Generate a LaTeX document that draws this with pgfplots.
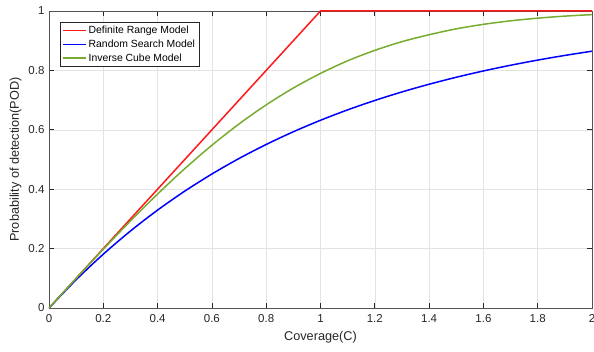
\documentclass[border=0pt]{standalone}
\usepackage{pgfplots}
\pgfplotsset{compat=1.18}
\usepackage{fontspec}
\setmainfont{Liberation Sans}
\definecolor{mgreen}{rgb}{0.466,0.674,0.188}
\definecolor{mred}{rgb}{1,0.1,0.1}
\definecolor{mblue}{rgb}{0,0,1}
\definecolor{axgray}{rgb}{0.15,0.15,0.15}
\begin{document}
\begin{tikzpicture}
\begin{axis}[
  at={(0pt,0pt)}, anchor=south west,
  scale only axis, width=543pt, height=297pt,
  xmin=0, xmax=2, ymin=0, ymax=1,
  xtick={0,0.2,...,2.01}, ytick={0,0.2,...,1.01},
  xticklabels={0,0.2,0.4,0.6,0.8,1,1.2,1.4,1.6,1.8,2},
  yticklabels={0,0.2,0.4,0.6,0.8,1},
  tick align=inside, tick pos=both,
  major tick length=5pt,
  grid=major,
  major grid style={gray!22, line width=0.6pt},
  axis line style={axgray!80, line width=0.7pt},
  every tick/.style={axgray, line width=0.7pt},
  tick label style={font=\fontsize{11.5}{12}\selectfont, text=axgray},
  xticklabel style={yshift=-3pt},
  yticklabel style={xshift=-1pt},
  /pgf/number format/assume math mode=true,
  xlabel={Coverage(C)}, ylabel={Probability of detection(POD)},
  label style={font=\fontsize{12.7}{13}\selectfont, text=axgray},
  xlabel style={yshift=-2pt},
  legend style={at={(11pt,286pt)}, anchor=north west, draw=axgray,
    font=\fontsize{10.4}{12}\selectfont, row sep=0.6pt, inner ysep=2pt, inner xsep=2pt,
    legend cell align=left},
  legend image code/.code={\draw[#1] (0pt,0pt) -- (23pt,0pt);},
]
\addlegendimage{draw=mred, line width=1.5pt}
\addlegendentry{Definite Range Model}
\addlegendimage{draw=mblue, line width=1.5pt}
\addlegendentry{Random Search Model}
\addlegendimage{draw=mgreen, line width=1.5pt}
\addlegendentry{Inverse Cube Model}
\addplot[color=mred, line width=1.5pt, forget plot] coordinates {(0,0) (1,1) (2,1)};
\addplot[color=mblue, line width=1.5pt, smooth, forget plot] coordinates {
(0,0) (0.1,0.09516) (0.2,0.18127) (0.3,0.25918) (0.4,0.32968) (0.5,0.39347)
(0.6,0.45119) (0.7,0.50341) (0.8,0.55067) (0.9,0.59343) (1.0,0.63212)
(1.1,0.66713) (1.2,0.69881) (1.3,0.72747) (1.4,0.75340) (1.5,0.77687)
(1.6,0.79810) (1.7,0.81732) (1.8,0.83470) (1.9,0.85043) (2.0,0.86466)};
\addplot[color=mgreen, line width=1.5pt, smooth, forget plot] coordinates {
(0,0) (0.1,0.09974) (0.2,0.19793) (0.3,0.29308) (0.4,0.38386) (0.5,0.46911)
(0.6,0.54794) (0.7,0.61969) (0.8,0.68397) (0.9,0.74066) (1.0,0.78990)
(1.1,0.83231) (1.2,0.86740) (1.3,0.89675) (1.4,0.92009) (1.5,0.93989)
(1.6,0.95507) (1.7,0.96688) (1.8,0.97592) (1.9,0.98274) (2.0,0.98781)};
\end{axis}
\pgfresetboundingbox
\path (-49pt,-43pt) rectangle (545pt,308pt);
\end{tikzpicture}
\end{document}
